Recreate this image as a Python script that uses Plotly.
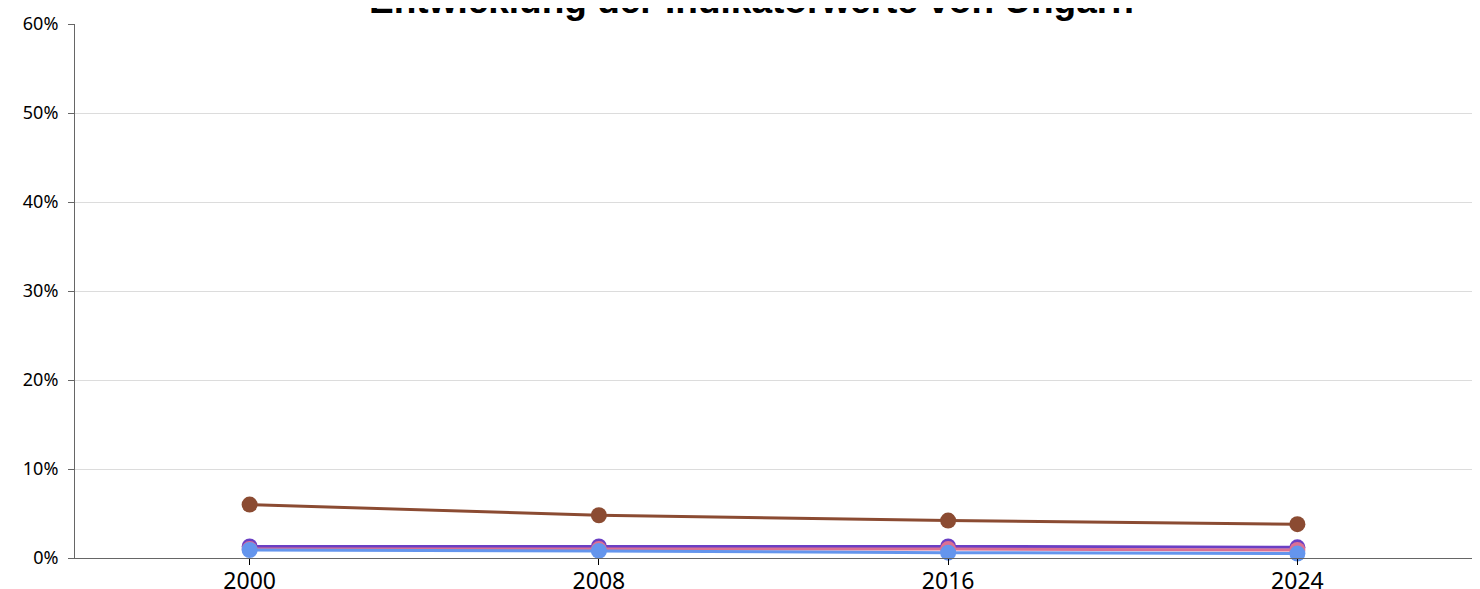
import plotly.graph_objects as go

years = [2000, 2008, 2016, 2024]
series_names = ["Indikator A", "Indikator B", "Indikator C", "Indikator D"]
brown_vals = [6.0, 4.8, 4.2, 3.8]
purple_vals = [1.3, 1.3, 1.3, 1.2]
pink_vals = [1.0, 1.0, 1.0, 0.9]
blue_vals = [0.9, 0.8, 0.6, 0.5]
colors = ["#8B4B32", "#6A3FC4", "#DB7093", "#6495ED"]
y_ticks = [0, 10, 20, 30, 40, 50, 60]
y_labels = ["0%", "10%", "20%", "30%", "40%", "50%", "60%"]

fig = go.Figure()
for name, vals, col in zip(series_names, [brown_vals, purple_vals, pink_vals, blue_vals], colors):
    fig.add_trace(go.Scatter(
        x=years, y=vals, name=name, mode="lines+markers",
        line=dict(color=col, width=3),
        marker=dict(color=col, size=16),
        cliponaxis=False,
    ))

fig.add_annotation(
    text="<b>Entwicklung der Indikatorwerte von Ungarn</b>",
    xref="paper", yref="paper", x=0.484, y=1.044, yanchor="middle",
    showarrow=False, font=dict(family="Liberation Sans, Arial", size=37, color="#000"),
)

fig.update_layout(
    width=1480, height=589,
    margin=dict(l=67, r=16, t=16, b=39),
    paper_bgcolor="white", plot_bgcolor="white",
    showlegend=False,
    font=dict(family="Noto Sans", size=16, color="#000"),
)
fig.update_xaxes(
    range=[1996, 2028], tickvals=years, ticktext=[str(y) for y in years],
    showgrid=False, showline=True, linecolor="#666", linewidth=1,
    ticks="outside", ticklen=6, tickcolor="#000", zeroline=False,
    tickfont=dict(size=23), automargin=False, ticklabelstandoff=-4,
)
fig.update_yaxes(
    range=[0, 60], tickvals=y_ticks, ticktext=y_labels,
    showgrid=True, gridcolor="#dcdcdc", showline=True, linecolor="#666", linewidth=1,
    ticks="outside", ticklen=6, tickcolor="#666", zeroline=False,
    tickfont=dict(size=18), automargin=False, ticklabelstandoff=6,
)

fig.write_html("out.html")
